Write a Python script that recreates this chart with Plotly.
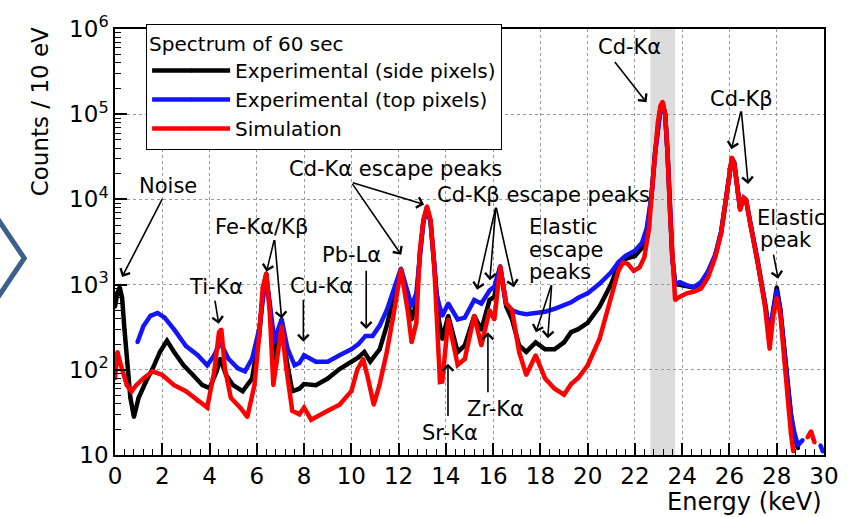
import plotly.graph_objects as go

# ---------------- data ----------------
side_E = [0.0, 0.1, 0.2, 0.3, 0.4, 0.5, 0.65, 0.8, 1.0, 1.3, 1.6, 1.9, 2.2, 2.5, 2.9, 3.3, 3.7, 4.0,
          4.3, 4.45, 4.7, 5.0, 5.4, 5.8, 6.1, 6.25, 6.4, 6.55, 6.75, 6.9, 7.05, 7.25, 7.5, 7.8,
          8.0, 8.5, 9.0, 9.5, 10.0, 10.3, 10.55, 10.8, 11.2, 11.5, 11.8, 12.1, 12.4, 12.55, 12.75,
          12.9, 13.05, 13.2, 13.35, 13.5, 13.6, 13.7, 13.85, 14.1, 14.5, 14.8, 15.2, 15.5, 15.85,
          16.05, 16.3, 16.55, 16.8, 17.1, 17.4, 17.8, 18.2, 18.6, 19.0, 19.3, 19.6, 20.0, 20.5,
          21.0, 21.3, 21.6, 22.0, 22.3, 22.5, 22.7, 22.85, 22.97, 23.08, 23.17, 23.28, 23.38,
          23.48, 23.58, 23.7, 23.9, 24.2, 24.5, 24.8, 25.1, 25.4, 25.65, 25.85, 26.0, 26.1, 26.2,
          26.35, 26.45, 26.6, 26.7, 26.9, 27.2, 27.5, 27.7, 27.85, 28.0, 28.15, 28.3, 28.45,
          28.6, 28.75, 28.9]
side_counts = [550, 800, 930, 700, 300, 123, 47, 28, 47, 72, 104, 162, 220, 162, 113, 87, 66, 61,
               96, 135, 87, 66, 56, 79, 250, 720, 1350, 550, 123, 230, 390, 135, 56, 60,
               68, 66, 79, 102, 124, 140, 162, 125, 174, 330, 720, 1500, 600, 390, 600,
               2300, 5500, 8000, 5500, 1900, 700, 390, 230, 430, 162, 193, 430, 295, 660,
               720, 1620, 560, 390, 193, 162, 210, 174, 174, 210, 277, 300, 355, 550,
               1020, 1740, 2000, 2170, 2700, 3900, 11000, 35000, 77000, 120000, 135000, 100000, 35000,
               7100, 2100, 1020, 1000, 960, 920, 1050, 1400, 2200, 4200, 10000, 22600, 30000, 27000,
               12100, 7800, 10200, 9800, 5000, 1900, 620, 260, 520, 930, 520, 180, 75,
               30, 16, 12]

top_E = [0.95, 1.2, 1.5, 1.8, 2.1, 2.5, 3.0, 3.5, 3.9, 4.2, 4.45, 4.8, 5.2, 5.5, 5.8, 6.1, 6.25,
         6.4, 6.55, 6.75, 6.9, 7.05, 7.3, 7.6, 7.8, 8.0, 8.5, 9.0, 9.5, 10.0, 10.3, 10.6, 10.9,
         11.2, 11.5, 11.8, 12.1, 12.4, 12.55, 12.75, 12.9, 13.05, 13.2, 13.35, 13.5, 13.6, 13.7,
         13.85, 14.1, 14.5, 14.8, 15.2, 15.5, 15.85, 16.05, 16.3, 16.55, 16.8, 17.1, 17.4, 17.8,
         18.2, 18.6, 19.0, 19.3, 19.6, 20.0, 20.5, 21.0, 21.3, 21.6, 22.0, 22.3, 22.5, 22.7,
         22.85, 22.97, 23.08, 23.17, 23.28, 23.38, 23.48, 23.58, 23.7, 23.9, 24.2, 24.5, 24.8,
         25.1, 25.4, 25.65, 25.85, 26.0, 26.1, 26.2, 26.35, 26.45, 26.6, 26.7, 26.9, 27.2, 27.5,
         27.7, 27.85, 28.0, 28.15, 28.3, 28.45, 28.6, 28.75, 28.9, 29.1, 29.2, 29.85, 29.95]
top_counts = [210, 325, 430, 465, 410, 298, 190, 148, 113, 148, 210, 135, 104, 96, 135, 298, 660,
              1120, 600, 210, 298, 390, 177, 113, 120, 148, 124, 124, 148, 174, 200, 250, 250,
              330, 500, 850, 1550, 790, 560, 790, 2500, 5500, 7800, 5500, 1900, 800, 600,
              430, 600, 390, 410, 660, 600, 850, 950, 1650, 600, 500, 465, 450, 465,
              480, 520, 575, 620, 700, 790, 1020, 1400, 1830, 2170, 2500, 3100, 4600, 11000,
              34000, 72000, 112000, 125000, 98000, 35000, 7100, 2100, 1020, 1070, 980, 940, 1070,
              1450, 2250, 4200, 10000, 22600, 30000, 27000, 12100, 7800, 10200, 9800, 5000, 1900, 600,
              250, 500, 850, 500, 175, 72, 30, 18, 13, 15, None, 13, 11]

sim_E = [0.0, 0.1, 0.25, 0.5, 0.7, 0.9, 1.2, 1.6, 2.0, 2.5, 3.0, 3.5, 3.9, 4.2, 4.4, 4.5, 4.65,
         4.9, 5.3, 5.6, 5.9, 6.1, 6.25, 6.4, 6.55, 6.7, 6.85, 7.05, 7.25, 7.5, 7.8, 8.0, 8.3,
         8.5, 9.0, 9.5, 10.0, 10.25, 10.5, 10.7, 10.95, 11.2, 11.5, 11.8, 12.1, 12.4, 12.55,
         12.75, 12.9, 13.05, 13.2, 13.35, 13.5, 13.6, 13.75, 13.85, 14.1, 14.5, 14.8, 15.2, 15.5,
         15.85, 16.05, 16.3, 16.55, 16.8, 17.1, 17.4, 17.8, 18.2, 18.6, 19.0, 19.3, 19.6, 20.0,
         20.5, 21.0, 21.3, 21.5, 21.7, 21.95, 22.2, 22.4, 22.6, 22.7, 22.85, 22.97, 23.08, 23.17,
         23.28, 23.38, 23.48, 23.58, 23.7, 23.9, 24.2, 24.5, 24.8, 25.1, 25.4, 25.65, 25.85,
         26.0, 26.1, 26.2, 26.35, 26.45, 26.6, 26.7, 26.9, 27.2, 27.5, 27.7, 27.85, 28.0, 28.15,
         28.3, 28.45, 28.6, 28.7, 29.0, 29.3, 29.45, 29.6]
sim_counts = [79, 162, 113, 66, 56, 66, 79, 96, 87, 66, 56, 43, 36, 96, 275, 298, 104,
              47, 36, 28, 66, 250, 930, 1350, 465, 66, 123, 325, 104, 33, 30, 36, 26,
              28, 33, 39, 56, 100, 134, 80, 39, 68, 162, 465, 1500, 465, 210,
              355, 2500, 5800, 8300, 5800, 1800, 500, 72, 73, 390, 114, 134, 430, 193,
              500, 390, 1620, 600, 500, 162, 87, 148, 79, 60, 51, 68, 80, 113,
              230, 720, 1450, 1820, 1750, 1450, 1600, 2100, 4600, 11000, 36000, 80000, 125000, 140000,
              100000, 35000, 7100, 2100, 660, 720, 790, 830, 900, 1230, 2100, 4000, 10000,
              23000, 31000, 27000, 11500, 7500, 10500, 10000, 4800, 1800, 560, 175, 425, 700, 450,
              140, 51, 18, 11, None, 16, 19, 14]

series_names = ["Experimental (side pixels)", "Experimental (top pixels)", "Simulation"]
series_colors = ["#000000", "#1414ff", "#ff0000"]
legend_title = "Spectrum of 60 sec"

# y axis ticks
y_tick_vals = [10, 100, 1000, 10000, 100000, 1000000]
y_tick_text = ["10", "10<sup>2</sup>", "10<sup>3</sup>", "10<sup>4</sup>", "10<sup>5</sup>", "10<sup>6</sup>"]
y_minor_vals = [m * d for d in [10, 100, 1000, 10000, 100000] for m in range(2, 10)]

# annotation texts: (text, x keV, log10 y)
labels = [
    ("Noise", 2.24, 4.16),
    ("Ti-Kα", 4.26, 2.97),
    ("Fe-Kα/Kβ", 6.20, 3.68),
    ("Cu-Kα", 8.73, 2.98),
    ("Pb-Lα", 10.0, 3.35),
    ("Cd-Kα escape peaks", 11.86, 4.36),
    ("Cd-Kβ escape peaks", 18.14, 4.05),
    ("Sr-Kα", 14.18, 1.26),
    ("Zr-Kα", 16.12, 1.54),
    ("Cd-Kα", 21.77, 5.79),
    ("Cd-Kβ", 26.50, 5.18),
]
left_labels = [
    ("Elastic", 17.43, 3.68),
    ("escape", 17.43, 3.41),
    ("peaks", 17.43, 3.15),
    ("Elastic", 27.09, 3.78),
    ("peak", 27.22, 3.52),
]
# arrows: (tail x, tail log y, tip x, tip log y)
arrows = [
    (2.03, 4.02, 0.30, 3.09),
    (4.22, 2.83, 4.39, 2.54),
    (6.75, 3.54, 6.41, 3.15),
    (6.75, 3.54, 7.05, 2.60),
    (7.97, 2.84, 7.97, 2.33),
    (10.63, 3.18, 10.63, 2.48),
    (10.0, 4.20, 13.08, 3.94),
    (10.0, 4.20, 12.11, 3.35),
    (16.12, 3.92, 15.32, 2.94),
    (16.12, 3.92, 15.86, 3.05),
    (16.12, 3.92, 16.88, 2.97),
    (18.48, 3.01, 17.81, 2.44),
    (18.48, 3.01, 18.31, 2.37),
    (14.09, 1.44, 14.09, 2.07),
    (15.78, 1.72, 15.78, 2.44),
    (21.10, 5.63, 22.49, 5.14),
    (26.50, 5.05, 26.08, 4.59),
    (26.50, 5.05, 26.79, 4.18),
    (27.85, 3.37, 28.06, 3.07),
]
band = (22.65, 23.7)

FONT = "DejaVu Sans"

fig = go.Figure()
for E, c, name, col in zip([side_E, top_E, sim_E], [side_counts, top_counts, sim_counts],
                           series_names, series_colors):
    fig.add_trace(go.Scatter(x=E, y=c, name=name, mode="lines+markers",
                             line=dict(color=col, width=4.5),
                             marker=dict(color=col, size=4),
                             connectgaps=False))

# grey band
fig.add_shape(type="rect", xref="x", yref="paper", x0=band[0], x1=band[1], y0=0, y1=1,
              fillcolor="#dcdcdc", line=dict(width=0), layer="below")

# decorative chevron on the left
fig.add_shape(type="path", xref="paper", yref="paper",
              path="M -0.166 0.556 L -0.128 0.462 L -0.166 0.368",
              line=dict(color="#3d5f8c", width=5))

for t, x, y in labels:
    fig.add_annotation(x=x, y=y, text=t, showarrow=False, xanchor="center", yanchor="middle",
                       font=dict(size=21, color="black", family=FONT))
for t, x, y in left_labels:
    fig.add_annotation(x=x, y=y, text=t, showarrow=False, xanchor="left", yanchor="middle",
                       font=dict(size=21, color="black", family=FONT))
for ax_, ay_, x, y in arrows:
    fig.add_annotation(x=x, y=y, ax=ax_, ay=ay_, axref="x", ayref="y", text="",
                       showarrow=True, arrowhead=4, arrowsize=1.3, arrowwidth=1.6,
                       arrowcolor="black", standoff=0, startstandoff=0)

# axis titles
fig.add_annotation(xref="paper", yref="paper", x=1.0, y=-0.11, text="Energy (keV)",
                   showarrow=False, xanchor="right", yanchor="middle",
                   font=dict(size=24, color="black", family=FONT))
fig.add_annotation(xref="paper", yref="paper", x=-0.1055, y=0.805, text="Counts / 10 eV",
                   showarrow=False, textangle=-90, xanchor="center", yanchor="middle",
                   font=dict(size=23, color="black", family=FONT))

fig.update_xaxes(range=[0, 30], dtick=2, tick0=0, ticks="inside", ticklen=12, tickwidth=1.5,
                 tickcolor="black", showgrid=True, gridcolor="#9a9a9a", griddash="dot",
                 gridwidth=1, showline=True, linecolor="black", linewidth=1.5, mirror=True,
                 zeroline=False, tickfont=dict(size=23, color="black", family=FONT),
                 minor=dict(dtick=0.4, tick0=0, ticks="inside", ticklen=6, tickcolor="black",
                            tickwidth=1.2, showgrid=False))
fig.update_yaxes(type="log", range=[1, 6], tickmode="array", tickvals=y_tick_vals,
                 ticktext=y_tick_text, ticks="inside",
                 ticklen=12, tickwidth=1.5, tickcolor="black", showgrid=True,
                 gridcolor="#9a9a9a", griddash="dot", gridwidth=1, showline=True,
                 linecolor="black", linewidth=1.5, mirror=True, zeroline=False,
                 tickfont=dict(size=23, color="black", family=FONT),
                 minor=dict(tickmode="array", tickvals=y_minor_vals, ticks="inside", ticklen=6,
                            tickcolor="black", tickwidth=1.2, showgrid=False))

fig.update_layout(
    width=851, height=517,
    margin=dict(l=115, r=25, t=20, b=62),
    plot_bgcolor="white", paper_bgcolor="white",
    font=dict(family=FONT, color="black"),
    showlegend=True,
    legend=dict(x=0.0436, y=1.012, xanchor="left", yanchor="top",
                bgcolor="white", bordercolor="black", borderwidth=1.2,
                title=dict(text=legend_title, font=dict(size=20, family=FONT)),
                font=dict(size=20, family=FONT), itemwidth=78, tracegroupgap=0),
)

fig.write_html("out.html")
